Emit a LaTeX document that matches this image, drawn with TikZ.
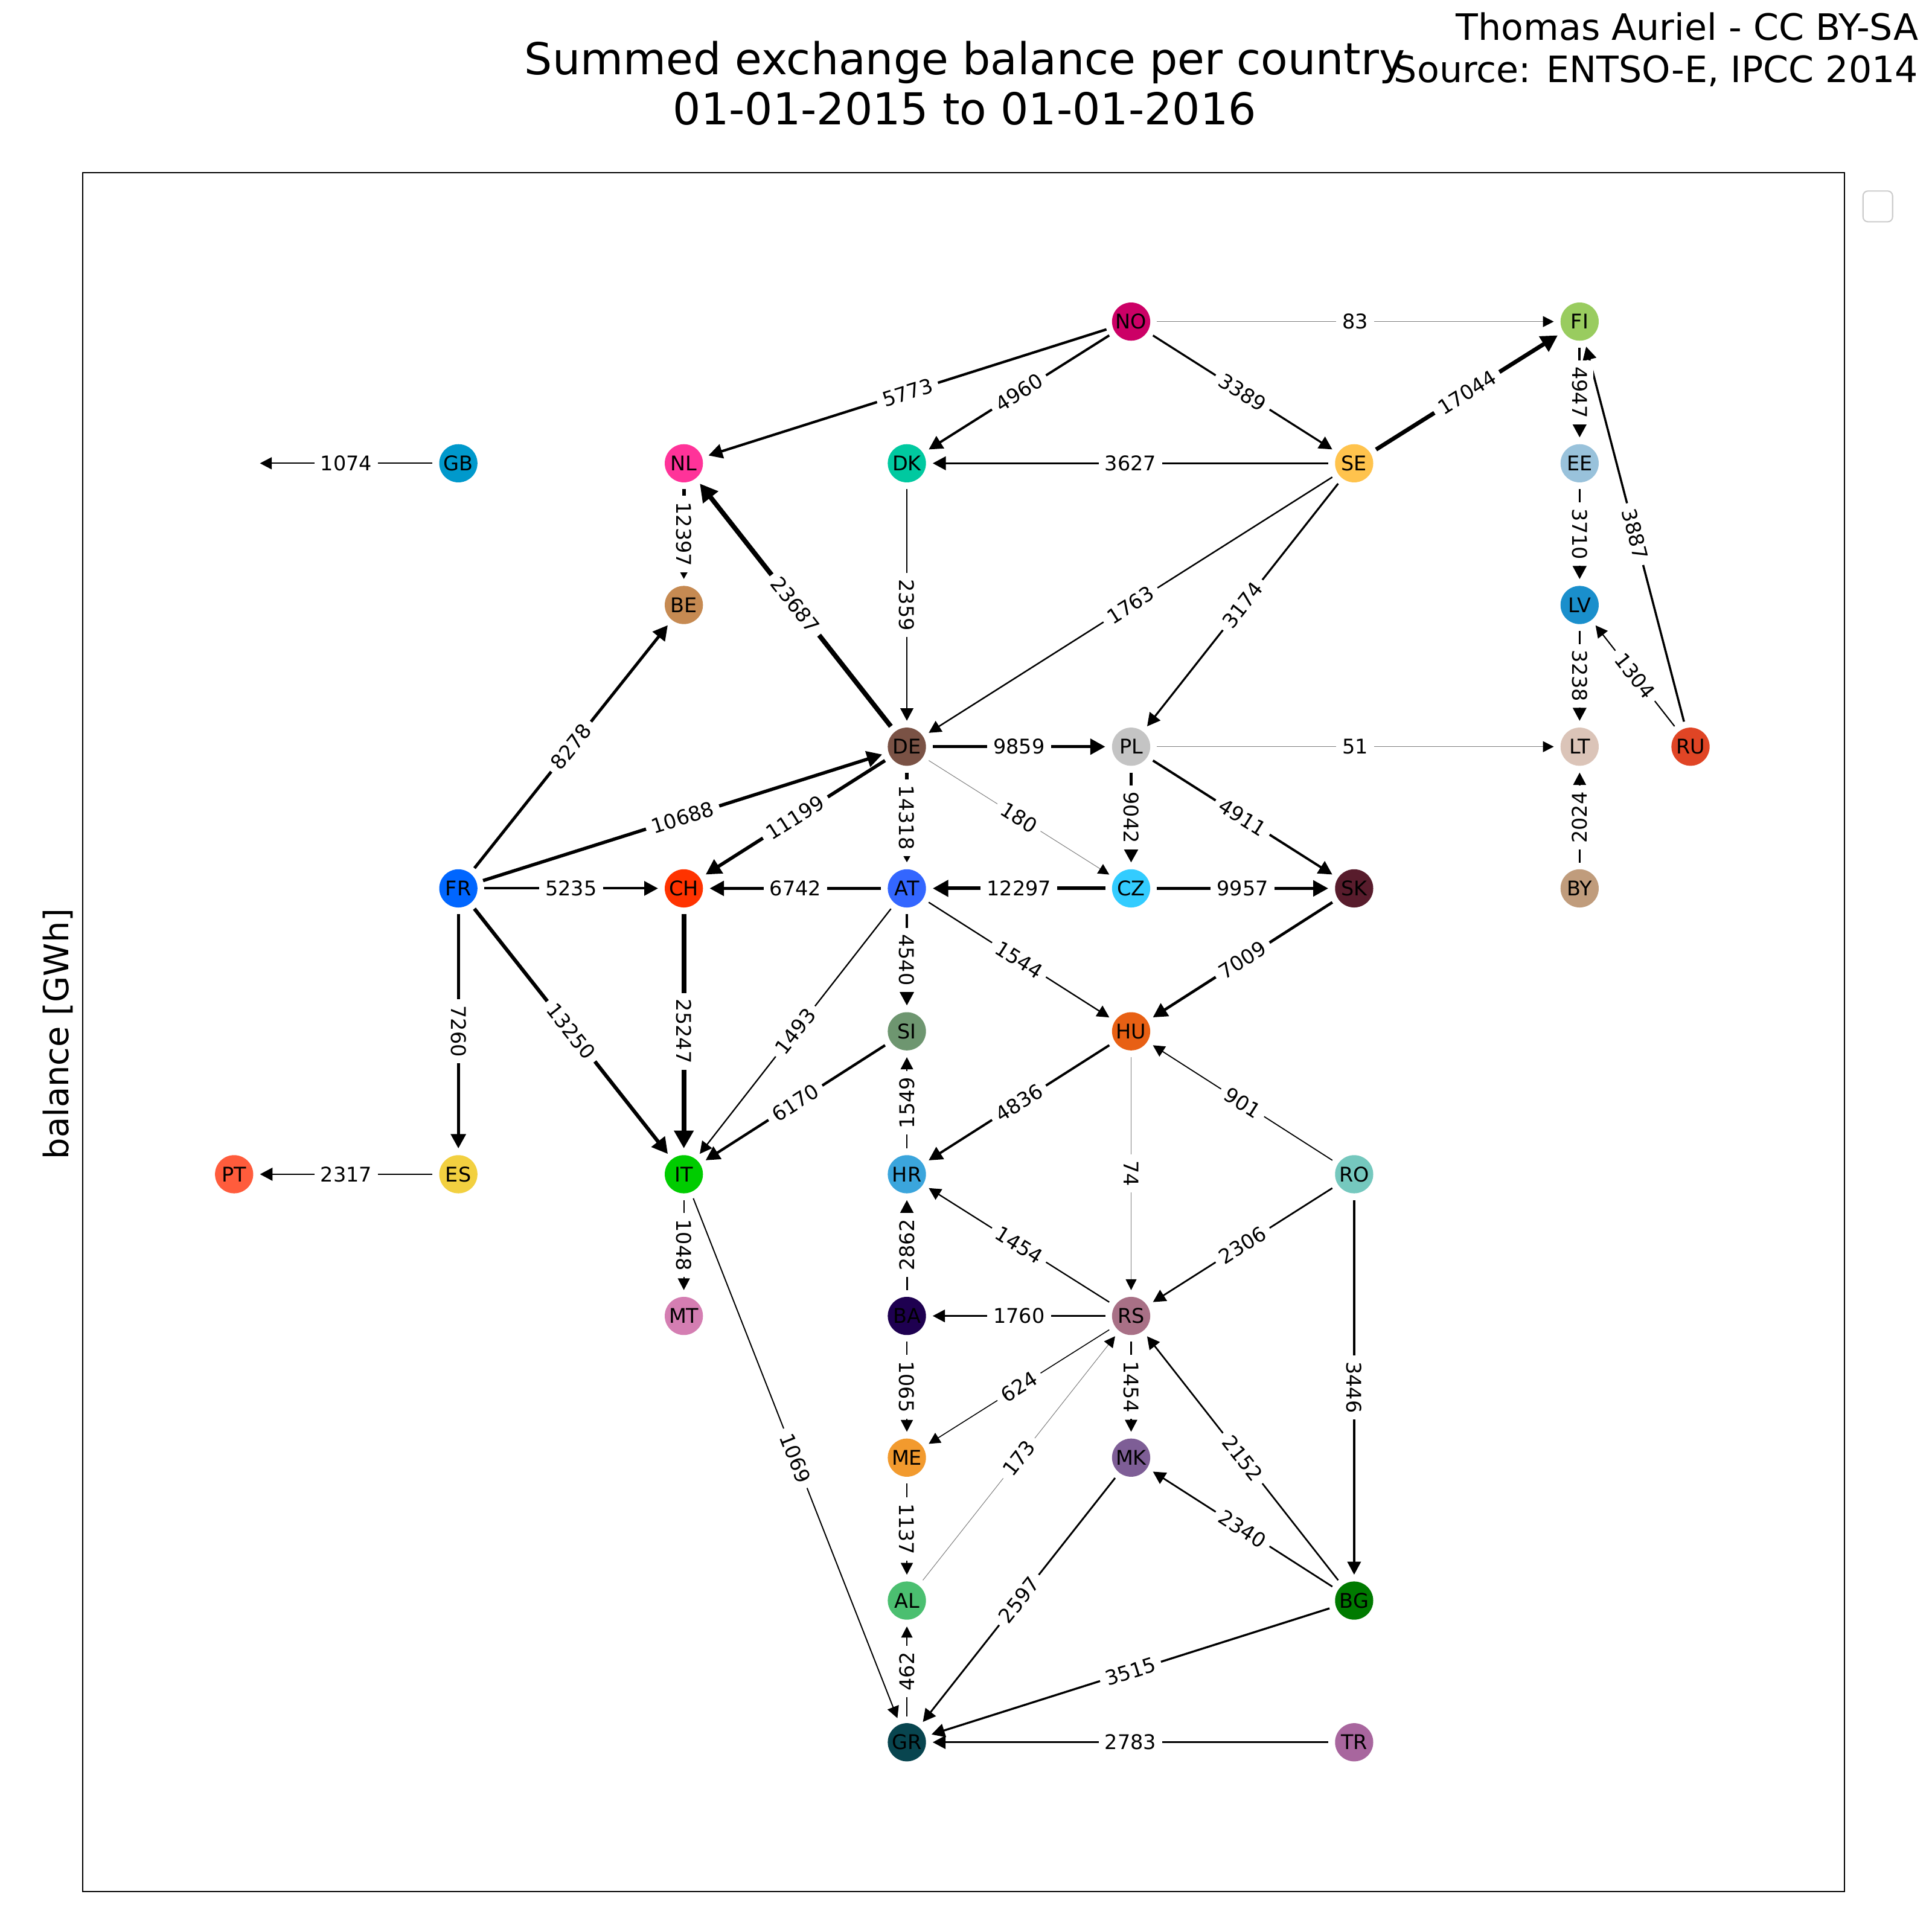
\documentclass[tikz,border=0pt]{standalone}
\usepackage{fontspec}
\setmainfont{DejaVu Sans}
\usetikzlibrary{arrows.meta}
\pgfdeclarelayer{bglayer}
\pgfdeclarelayer{edgelayer}
\pgfsetlayers{bglayer,edgelayer,main}

\definecolor{cNO}{HTML}{CC0066}
\definecolor{cFI}{HTML}{99CC5F}
\definecolor{cNL}{HTML}{FF3399}
\definecolor{cDK}{HTML}{00C9A0}
\definecolor{cSE}{HTML}{FFC34D}
\definecolor{cEE}{HTML}{99C2DB}
\definecolor{cGB}{HTML}{0099CC}
\definecolor{cBE}{HTML}{C68A52}
\definecolor{cLV}{HTML}{1A8FCC}
\definecolor{cDE}{HTML}{7A5245}
\definecolor{cPL}{HTML}{C4C4C4}
\definecolor{cLT}{HTML}{DBC4B8}
\definecolor{cRU}{HTML}{E04525}
\definecolor{cFR}{HTML}{0066FF}
\definecolor{cCH}{HTML}{FF3300}
\definecolor{cAT}{HTML}{3366FF}
\definecolor{cCZ}{HTML}{33CCFF}
\definecolor{cSK}{HTML}{581C2C}
\definecolor{cBY}{HTML}{C09C7C}
\definecolor{cSI}{HTML}{6E9670}
\definecolor{cHU}{HTML}{E86014}
\definecolor{cPT}{HTML}{FF5C3C}
\definecolor{cES}{HTML}{F2D040}
\definecolor{cIT}{HTML}{00CC00}
\definecolor{cHR}{HTML}{3BA5DC}
\definecolor{cRO}{HTML}{75C8BE}
\definecolor{cMT}{HTML}{D47EB2}
\definecolor{cBA}{HTML}{1E0050}
\definecolor{cRS}{HTML}{A87086}
\definecolor{cME}{HTML}{F29A2E}
\definecolor{cMK}{HTML}{7E5E96}
\definecolor{cAL}{HTML}{4BBF70}
\definecolor{cBG}{HTML}{007A00}
\definecolor{cGR}{HTML}{08454F}
\definecolor{cTR}{HTML}{A8669E}

\tikzset{
  country/.style={circle, minimum size=31pt, inner sep=0pt, outer sep=5.5pt,
    font=\fontsize{16.4}{18}\selectfont, text=black},
  hiddennode/.style={circle, minimum size=31pt, inner sep=0pt, outer sep=5.5pt},
  elabel/.style={sloped, fill=white, inner sep=5pt,
    font=\fontsize{16.4}{18}\selectfont, text=black},
  flow/.style={-{Triangle[length=8pt 1.6, width=8pt 1.8, color=black]}},
  titletext/.style={font=\fontsize{35.7}{40}\selectfont, inner sep=0pt},
  credittext/.style={font=\fontsize{29.5}{33}\selectfont, inner sep=0pt, anchor=base east},
}

\newcommand\flowedge[3]{%
  \edef\ew{\fpeval{max(0.5,4*(#3/25247)^0.45)}}%
  \ifnum#3<300 \def\ec{black!50}\else\def\ec{black}\fi
  \begin{pgfonlayer}{edgelayer}
    \draw[flow, line width=\ew pt, draw=\ec] (#1) -- (#2);
  \end{pgfonlayer}
  \path (#1) -- node[elabel]{#3} (#2);
}

\begin{document}
\begin{tikzpicture}[x=1pt, y=-1pt]
\begin{pgfonlayer}{bglayer}
\fill[white] (0,0) rectangle (1568,1568);
\end{pgfonlayer}
\useasboundingbox (0,0) rectangle (1568,1568);

% frame, legend, texts
\draw[line width=1.1pt] (67,140) rectangle (1497,1535);
\draw[black!20, line width=1pt, rounded corners=4pt, fill=white] (1512,155) rectangle (1536,180);
\node[titletext, anchor=base] (title1) at (783,60.5) {Summed exchange balance per country};
\node[titletext, anchor=base] (title2) at (783,101) {01-01-2015 to 01-01-2016};
\node[credittext] (credit1) at (1557,32.6) {Thomas Auriel - CC BY-SA};
\node[credittext] (credit2) at (1557,66.9) {Source: ENTSO-E, IPCC 2014};
\node[rotate=90, anchor=base, inner sep=0pt, font=\fontsize{27.4}{30}\selectfont] (ylab) at (55.5,839) {balance [GWh]};

% countries
\node[country, fill=cNO] (NO) at (918,261) {NO};
\node[country, fill=cFI] (FI) at (1282,261) {FI};
\node[hiddennode] (IE) at (190,376) {};
\node[country, fill=cGB] (GB) at (372,376) {GB};
\node[country, fill=cNL] (NL) at (555,376) {NL};
\node[country, fill=cDK] (DK) at (736,376) {DK};
\node[country, fill=cSE] (SE) at (1099,376) {SE};
\node[country, fill=cEE] (EE) at (1282,376) {EE};
\node[country, fill=cBE] (BE) at (555,491) {BE};
\node[country, fill=cLV] (LV) at (1282,491) {LV};
\node[country, fill=cDE] (DE) at (736,606) {DE};
\node[country, fill=cPL] (PL) at (918,606) {PL};
\node[country, fill=cLT] (LT) at (1282,606) {LT};
\node[country, fill=cRU] (RU) at (1372,606) {RU};
\node[country, fill=cFR] (FR) at (372,721) {FR};
\node[country, fill=cCH] (CH) at (555,721) {CH};
\node[country, fill=cAT] (AT) at (736,721) {AT};
\node[country, fill=cCZ] (CZ) at (918,721) {CZ};
\node[country, fill=cSK] (SK) at (1099,721) {SK};
\node[country, fill=cBY] (BY) at (1282,721) {BY};
\node[country, fill=cSI] (SI) at (736,837) {SI};
\node[country, fill=cHU] (HU) at (918,837) {HU};
\node[country, fill=cPT] (PT) at (190,953) {PT};
\node[country, fill=cES] (ES) at (372,953) {ES};
\node[country, fill=cIT] (IT) at (555,953) {IT};
\node[country, fill=cHR] (HR) at (736,953) {HR};
\node[country, fill=cRO] (RO) at (1099,953) {RO};
\node[country, fill=cMT] (MT) at (555,1068) {MT};
\node[country, fill=cBA] (BA) at (736,1068) {BA};
\node[country, fill=cRS] (RS) at (918,1068) {RS};
\node[country, fill=cME] (ME) at (736,1183) {ME};
\node[country, fill=cMK] (MK) at (918,1183) {MK};
\node[country, fill=cAL] (AL) at (736,1299) {AL};
\node[country, fill=cBG] (BG) at (1099,1299) {BG};
\node[country, fill=cGR] (GR) at (736,1414) {GR};
\node[country, fill=cTR] (TR) at (1099,1414) {TR};

% flows
\flowedge{NO}{FI}{83}
\flowedge{NO}{NL}{5773}
\flowedge{NO}{DK}{4960}
\flowedge{NO}{SE}{3389}
\flowedge{SE}{FI}{17044}
\flowedge{SE}{DK}{3627}
\flowedge{SE}{DE}{1763}
\flowedge{SE}{PL}{3174}
\flowedge{FI}{EE}{4947}
\flowedge{EE}{LV}{3710}
\flowedge{RU}{FI}{3887}
\flowedge{RU}{LV}{1304}
\flowedge{LV}{LT}{3238}
\flowedge{BY}{LT}{2024}
\flowedge{PL}{LT}{51}
\flowedge{GB}{IE}{1074}
\flowedge{NL}{BE}{12397}
\flowedge{DE}{NL}{23687}
\flowedge{DK}{DE}{2359}
\flowedge{FR}{BE}{8278}
\flowedge{FR}{DE}{10688}
\flowedge{DE}{CH}{11199}
\flowedge{FR}{CH}{5235}
\flowedge{FR}{IT}{13250}
\flowedge{FR}{ES}{7260}
\flowedge{ES}{PT}{2317}
\flowedge{DE}{PL}{9859}
\flowedge{DE}{AT}{14318}
\flowedge{DE}{CZ}{180}
\flowedge{PL}{CZ}{9042}
\flowedge{PL}{SK}{4911}
\flowedge{CZ}{AT}{12297}
\flowedge{CZ}{SK}{9957}
\flowedge{AT}{CH}{6742}
\flowedge{CH}{IT}{25247}
\flowedge{AT}{IT}{1493}
\flowedge{AT}{SI}{4540}
\flowedge{AT}{HU}{1544}
\flowedge{SK}{HU}{7009}
\flowedge{SI}{IT}{6170}
\flowedge{HR}{SI}{1549}
\flowedge{HU}{HR}{4836}
\flowedge{HU}{RS}{74}
\flowedge{RO}{HU}{901}
\flowedge{RO}{RS}{2306}
\flowedge{RO}{BG}{3446}
\flowedge{IT}{MT}{1048}
\flowedge{IT}{GR}{1069}
\flowedge{RS}{HR}{1454}
\flowedge{BA}{HR}{2862}
\flowedge{RS}{BA}{1760}
\flowedge{BA}{ME}{1065}
\flowedge{RS}{ME}{624}
\flowedge{RS}{MK}{1454}
\flowedge{ME}{AL}{1137}
\flowedge{AL}{RS}{173}
\flowedge{GR}{AL}{462}
\flowedge{MK}{GR}{2597}
\flowedge{BG}{MK}{2340}
\flowedge{BG}{RS}{2152}
\flowedge{BG}{GR}{3515}
\flowedge{TR}{GR}{2783}
\end{tikzpicture}
\end{document}
